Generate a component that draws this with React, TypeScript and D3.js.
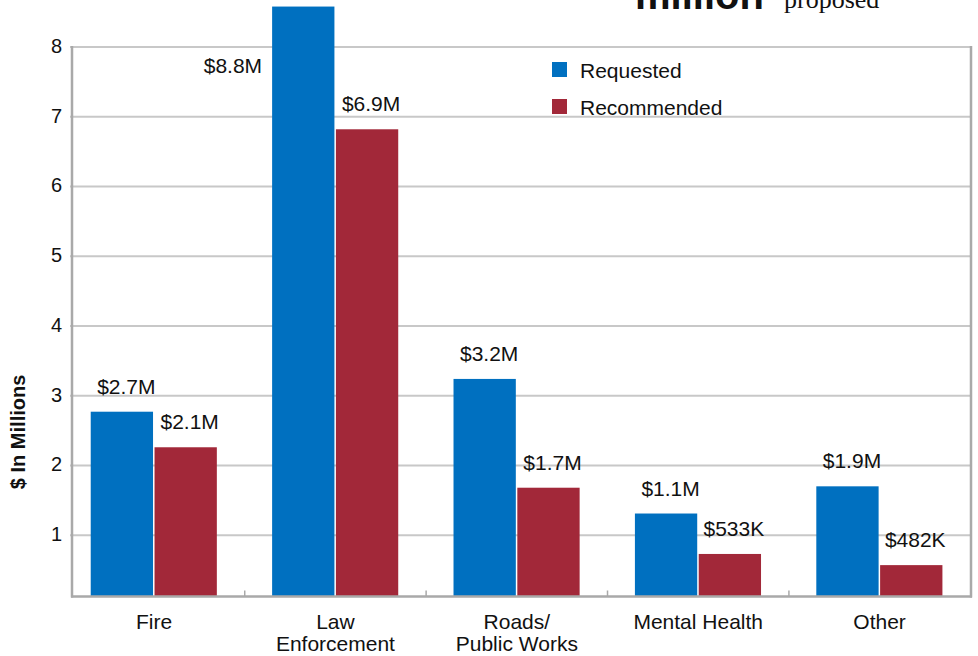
import { useEffect, useRef } from 'react';
import * as d3 from 'd3';

const categories = ['Fire', 'Law\nEnforcement', 'Roads/\nPublic Works', 'Mental Health', 'Other'];
const seriesNames = ['Requested', 'Recommended'];
const requested = [2.77, 8.58, 3.24, 1.31, 1.7];
const recommended = [2.26, 6.82, 1.68, 0.73, 0.57];
const requestedLabels = ['$2.7M', '$8.8M', '$3.2M', '$1.1M', '$1.9M'];
const recommendedLabels = ['$2.1M', '$6.9M', '$1.7M', '$533K', '$482K'];
const yTicks = [1, 2, 3, 4, 5, 6, 7, 8];
const yDomain = [0.12, 8];

const colors = ['#0070c0', '#a22839'];
const FONT = '"Liberation Sans", Arial, sans-serif';

export default function App() {
  const svgRef = useRef<SVGSVGElement>(null);

  useEffect(() => {
    if (!svgRef.current) return;
    const svg = d3.select(svgRef.current);
    svg.selectAll('*').remove();

    const W = 978;
    const H = 656;
    const margin = { top: 47, right: 7, bottom: 59.5, left: 72 };
    const plotBottom = H - margin.bottom;
    const plotRight = W - margin.right;

    const x = d3
      .scaleBand<string>()
      .domain(categories)
      .range([margin.left, plotRight])
      .paddingInner(0.302)
      .paddingOuter(0.129)
      .align(0.4);

    const xSub = d3
      .scaleBand<string>()
      .domain(seriesNames)
      .range([0, x.bandwidth()]);

    const y = d3.scaleLinear().domain(yDomain).range([plotBottom, margin.top]);

    // Gridlines
    svg.append('g')
      .selectAll('line')
      .data(yTicks)
      .enter()
      .append('line')
      .attr('x1', margin.left - 2)
      .attr('x2', plotRight)
      .attr('y1', d => y(d))
      .attr('y2', d => y(d))
      .attr('stroke', '#c8c8c8')
      .attr('stroke-width', 2);

    // Y tick labels
    svg.append('g')
      .selectAll('text')
      .data(yTicks)
      .enter()
      .append('text')
      .attr('x', margin.left - 10)
      .attr('y', d => y(d) + 6)
      .attr('text-anchor', 'end')
      .style('font-family', FONT)
      .style('font-size', '20px')
      .attr('fill', '#111')
      .text(d => d);

    // Frame: left, right (bottom drawn after bars)
    const frame = svg.append('g').attr('stroke', '#a9a9a9').attr('stroke-width', 2.5);
    frame.append('line')
      .attr('x1', margin.left).attr('x2', margin.left)
      .attr('y1', y(8) - 1).attr('y2', plotBottom + 1);
    frame.append('line')
      .attr('x1', plotRight).attr('x2', plotRight)
      .attr('y1', y(8) - 1).attr('y2', plotBottom + 1);

    // Category separators on the x axis
    const sepGap = (x.step() - x.bandwidth()) / 2;
    svg.append('g')
      .selectAll('line')
      .data(categories.slice(0, -1))
      .enter()
      .append('line')
      .attr('x1', d => (x(d) || 0) + x.bandwidth() + sepGap)
      .attr('x2', d => (x(d) || 0) + x.bandwidth() + sepGap)
      .attr('y1', plotBottom)
      .attr('y2', plotBottom - 6)
      .attr('stroke', '#a9a9a9')
      .attr('stroke-width', 1.5);

    // Bars
    const series = [requested, recommended];
    const seriesLabels = [requestedLabels, recommendedLabels];
    series.forEach((values, s) => {
      svg.append('g')
        .selectAll('rect')
        .data(values)
        .enter()
        .append('rect')
        .attr('x', (_d, i) => (x(categories[i]) || 0) + (xSub(seriesNames[s]) || 0) + (s === 1 ? 0.5 : 0))
        .attr('y', d => y(d))
        .attr('width', xSub.bandwidth() - 1)
        .attr('height', d => plotBottom - y(d))
        .attr('fill', colors[s]);
    });

    frame.raise();
    frame.append('line')
      .attr('x1', margin.left - 1).attr('x2', plotRight + 1)
      .attr('y1', plotBottom).attr('y2', plotBottom);

    // Value labels
    series.forEach((values, s) => {
      svg.append('g')
        .selectAll('text')
        .data(values)
        .enter()
        .append('text')
        .each(function (d, i) {
          const left = (x(categories[i]) || 0) + (xSub(seriesNames[s]) || 0);
          const top = y(d);
          const t = d3.select(this);
          if (top - 22 < margin.top) {
            t.attr('x', left - 10).attr('y', margin.top + 26).attr('text-anchor', 'end');
          } else {
            t.attr('x', left + xSub.bandwidth() / 2 + 4).attr('y', top - 18).attr('text-anchor', 'middle');
          }
        })
        .style('font-family', FONT)
        .style('font-size', '21px')
        .attr('fill', '#111')
        .text((_d, i) => seriesLabels[s][i]);
    });

    // Category labels
    const catText = svg.append('g')
      .selectAll('text')
      .data(categories)
      .enter()
      .append('text')
      .attr('x', d => (x(d) || 0) + x.bandwidth() / 2)
      .attr('y', plotBottom + 32)
      .attr('text-anchor', 'middle')
      .style('font-family', FONT)
      .style('font-size', '21px')
      .attr('fill', '#111');
    catText.each(function (d) {
      const t = d3.select(this);
      d.split('\n').forEach((line, k) => {
        t.append('tspan')
          .attr('x', (x(d) || 0) + x.bandwidth() / 2)
          .attr('dy', k === 0 ? 0 : 22)
          .text(line);
      });
    });

    // Legend
    const legend = svg.append('g').attr('transform', 'translate(552, 62)');
    seriesNames.forEach((name, s) => {
      legend.append('rect')
        .attr('x', 0).attr('y', s * 37).attr('width', 15).attr('height', 15)
        .attr('fill', colors[s]);
      legend.append('text')
        .attr('x', 28).attr('y', s * 37 + 16)
        .style('font-family', FONT)
        .style('font-size', '21px')
        .attr('fill', '#111')
        .text(name);
    });

    // Y axis title
    svg.append('text')
      .attr('transform', `translate(25, ${y(2.48)}) rotate(-90)`)
      .attr('text-anchor', 'middle')
      .style('font-family', FONT)
      .style('font-size', '20px')
      .style('font-weight', 'bold')
      .attr('fill', '#111')
      .text('$ In Millions');

    // Cut-off heading at the top
    svg.append('text')
      .attr('x', 635).attr('y', 9)
      .style('font-family', FONT)
      .style('font-size', '40px')
      .style('font-weight', 'bold')
      .attr('fill', '#111')
      .text('million');
    svg.append('text')
      .attr('x', 784).attr('y', 8)
      .style('font-family', '"Liberation Serif", "Times New Roman", serif')
      .style('font-size', '26px')
      .attr('fill', '#111')
      .text('proposed');
  }, []);

  return (
    <svg
      ref={svgRef}
      width={978}
      height={656}
      style={{ position: 'absolute', left: 0, top: 0, background: '#fff' }}
    />
  );
}
